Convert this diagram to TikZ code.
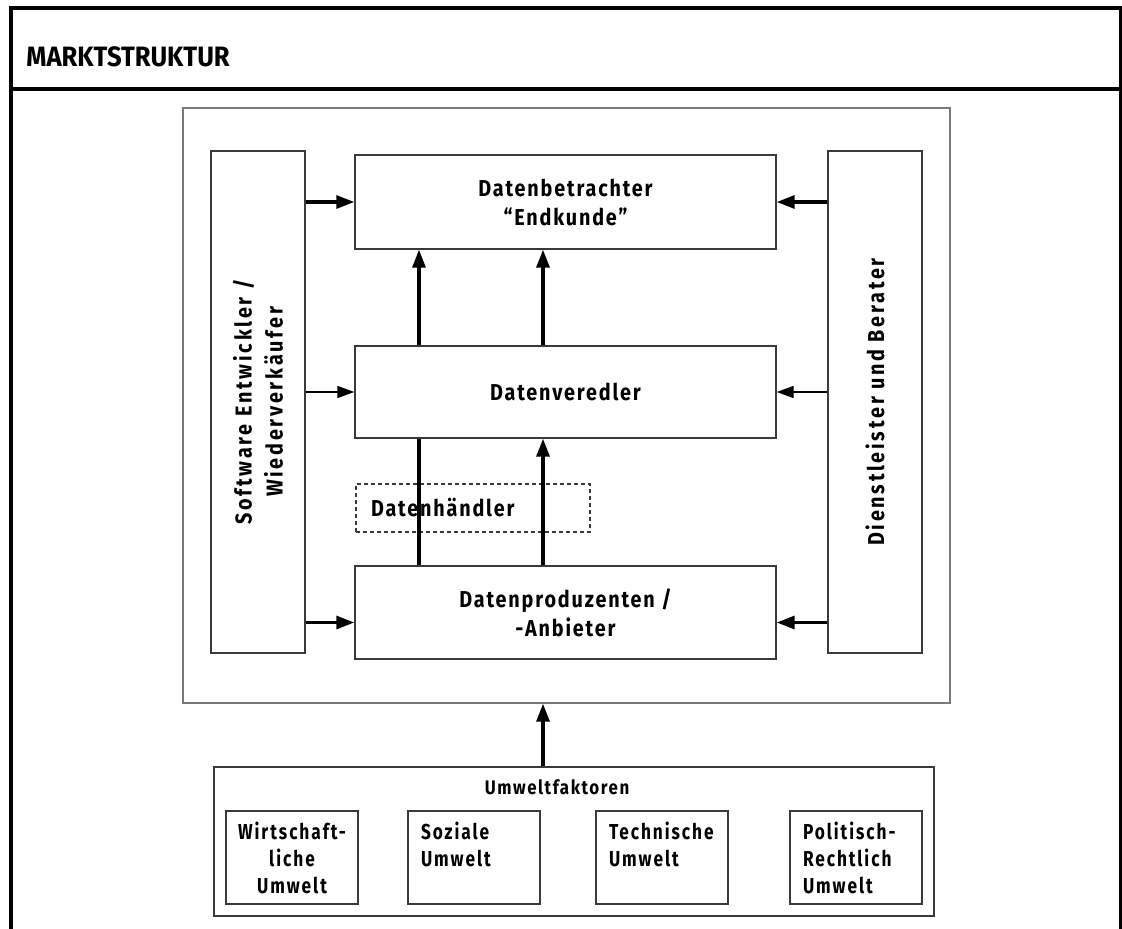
\documentclass[tikz,border=0pt]{standalone}
\usepackage{fontspec}
\setmainfont{Fira Sans}
\newfontfamily\boxfont{Fira Sans}[FakeStretch=0.86,LetterSpace=8]
\newfontfamily\rotfont{Fira Sans}[FakeStretch=0.86,LetterSpace=12]
\newfontfamily\smallfont{Fira Sans}[FakeStretch=0.8,LetterSpace=9]
\newfontfamily\titlefont{Fira Sans}[FakeStretch=0.915]
\usetikzlibrary{arrows.meta}
\definecolor{boxline}{HTML}{3A3A3A}
\definecolor{frameline}{HTML}{7A7A7A}

\begin{document}
\begin{tikzpicture}[x=0.5pt,y=-0.5pt,
  box/.style={draw=boxline,line width=0.7pt,inner sep=0pt,align=center,font=\boxfont\bfseries\fontsize{11.5}{14.5}\selectfont},
  rotbox/.style={box,rotate=90,minimum width=251pt,minimum height=47pt,font=\rotfont\bfseries\fontsize{11.5}{15.5}\selectfont},
  fbox/.style={draw=boxline,line width=0.7pt,minimum width=66pt,minimum height=46.5pt,inner xsep=6.5pt,inner ysep=0pt,text width=53pt,font=\smallfont\bfseries\fontsize{10.8}{13.5}\selectfont},
  big/.style={line width=1.6pt,-{Triangle[length=9pt,width=6.5pt]}},
  small/.style={line width=0.8pt,-{Triangle[length=8.5pt,width=6pt]}}]
\useasboundingbox (0,0) rectangle (1122,929);
\draw[line width=1.6pt] (11,935) -- (11,8) -- (1121,8) -- (1121,935);
\draw[line width=1.6pt] (11,89) -- (1121,89);
\node[anchor=west,inner sep=0pt,font=\titlefont\bfseries\fontsize{14}{17}\selectfont] (title) at (26,57) {MARKTSTRUKTUR};

\node[box,draw=frameline,minimum width=383.5pt,minimum height=297.5pt] (markt) at (566.5,405.5) {};
\node[rotbox] (soft) at (258,402) {Software Entwickler /\\Wiederverkäufer};
\node[rotbox] (dienst) at (875,402) {Dienstleister und Berater};
\node[box,minimum width=210.5pt,minimum height=47pt] (betr) at (565.5,202) {Datenbetrachter\\“Endkunde”};
\node[box,minimum width=210.5pt,minimum height=46pt] (vered) at (565.5,392) {Datenveredler};
\node[box,minimum width=210.5pt,minimum height=46.5pt] (prod) at (565.5,612.5) {Datenproduzenten /\\-Anbieter};
\node[box,dashed,dash pattern=on 2pt off 1.5pt,minimum width=117pt,minimum height=24pt,inner xsep=7.5pt,text width=102pt,align=left] (haendler) at (473,508) {Datenhändler};

\coordinate (lx) at (419,0);
\coordinate (rx) at (543,0);
\draw[big] (soft.south |- betr) -- (betr.west);
\draw[small] (soft.south |- vered) -- (vered.west);
\draw[big] ([yshift=-5pt]soft.south |- prod) -- ([yshift=-5pt]prod.west);
\draw[big] (dienst.north |- betr) -- (betr.east);
\draw[small] (dienst.north |- vered) -- (vered.east);
\draw[big] ([yshift=-5pt]dienst.north |- prod) -- ([yshift=-5pt]prod.east);
\draw[big] (vered.north -| lx) -- (betr.south -| lx);
\draw[big] (vered.north -| rx) -- (betr.south -| rx);
\draw[line width=1.6pt] (prod.north -| lx) -- (vered.south -| lx);
\draw[big] (prod.north -| rx) -- (vered.south -| rx);

\node[box,minimum width=360pt,minimum height=74.5pt] (umwelt) at (574,841.5) {};
\node[inner sep=0pt,font=\boxfont\bfseries\fontsize{9.8}{12}\selectfont] (umwtitle) at (557,787) {Umweltfaktoren};
\node[fbox,align=center,text width=62pt,inner xsep=2pt] (wirt) at (292,857.5) {Wirtschaft-\\liche\\Umwelt};
\node[fbox,align=left] (sozial) at (474,857.5) {Soziale\\Umwelt\\\mbox{}};
\node[fbox,align=left] (tech) at (662,857.5) {Technische\\Umwelt\\\mbox{}};
\node[fbox,align=left] (polit) at (856,857.5) {Politisch-\\Rechtlich\\Umwelt};
\draw[big] (umwelt.north -| rx) -- (markt.south -| rx);
\end{tikzpicture}
\end{document}
